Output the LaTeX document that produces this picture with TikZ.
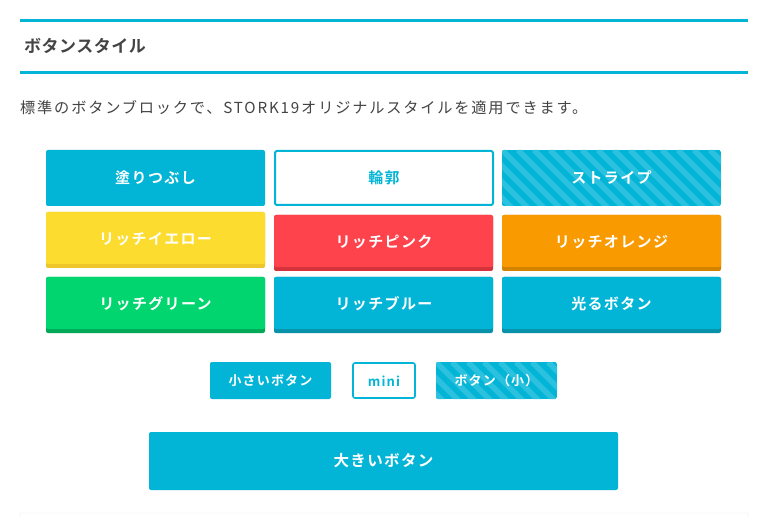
\documentclass[tikz,border=0pt]{standalone}
\usepackage{fontspec}
\setmainfont{Noto Sans CJK JP}
\newfontfamily\jpb[LetterSpace=9]{Noto Sans CJK JP Bold}
\newfontfamily\jpt[LetterSpace=3]{Noto Sans CJK JP Bold}
\newfontfamily\jpr[LetterSpace=12]{Noto Sans CJK JP}
\definecolor{cy}{HTML}{02B5D6}
\definecolor{cyl}{HTML}{2CC2DF}
\definecolor{cyd}{HTML}{0891A8}
\definecolor{yl}{HTML}{FDDC30}
\definecolor{yld}{HTML}{EFC62A}
\definecolor{pk}{HTML}{FE434C}
\definecolor{pkd}{HTML}{D4333B}
\definecolor{og}{HTML}{F89A00}
\definecolor{ogd}{HTML}{D48300}
\definecolor{gr}{HTML}{00D56F}
\definecolor{grd}{HTML}{00A858}
\definecolor{tx}{HTML}{444444}
\tikzset{
 btxt/.style={text=white,font=\jpb\fontsize{15}{17}\selectfont},
 stxt/.style={text=white,font=\jpb\fontsize{13}{15}\selectfont},
}
\newcommand{\btn}[7]{% name x1 y1 x2 y2 color shadow
 \fill[#7,rounded corners=2pt] (#2,#3) rectangle (#4,#5);
 \fill[#6,rounded corners=2pt] (#2,#3) rectangle (#4,#5-4);
}
\newcommand{\stripes}[4]{%
 \begin{scope}
 \clip[rounded corners=2pt] (#1,#2) rectangle (#3,#4);
 \fill[cy] (#1,#2) rectangle (#3,#4);
 \foreach \k in {-80,-64,...,260} \draw[cyl,line width=5.6pt] (#1+\k,#2) -- ++(80,80);
 \end{scope}}
\begin{document}
\begin{tikzpicture}[x=1pt,y=-1pt]
\useasboundingbox[fill=white] (0,0) rectangle (765,518);
\fill[cy] (20,19) rectangle (748,22);
\fill[cy] (20,71) rectangle (748,74);
\node[anchor=west,text=tx,inner sep=0,font=\jpt\fontsize{17}{19}\selectfont] (title) at (24,46) {ボタンスタイル};
\node[anchor=west,text=tx,inner sep=0,font=\jpr\fontsize{15.2}{17}\selectfont] (desc) at (20,108) {標準のボタンブロックで、STORK19オリジナルスタイルを適用できます。};
% row1
\fill[cy,rounded corners=2pt] (46,150) rectangle (265,206);
\node[btxt] (b1) at (155.5,178) {塗りつぶし};
\draw[cy,line width=2pt,rounded corners=2pt] (275,151) rectangle (493,205);
\node[btxt,text=cy] (b2) at (384,178) {輪郭};
\stripes{502}{150}{721}{206}
\node[btxt] (b3) at (611.5,178) {ストライプ};
% row2
\btn{y}{46}{212}{265}{268}{yl}{yld}
\node[btxt] (b4) at (155.5,239) {リッチイエロー};
\btn{p}{274}{215}{493}{271}{pk}{pkd}
\node[btxt] (b5) at (384,242) {リッチピンク};
\btn{o}{502}{215}{721}{271}{og}{ogd}
\node[btxt] (b6) at (611.5,242) {リッチオレンジ};
% row3
\btn{g}{46}{277}{265}{333}{gr}{grd}
\node[btxt] (b7) at (155.5,304) {リッチグリーン};
\btn{b}{274}{277}{493}{333}{cy}{cyd}
\node[btxt] (b8) at (384,304) {リッチブルー};
\btn{h}{502}{277}{721}{333}{cy}{cyd}
\node[btxt] (b9) at (611.5,304) {光るボタン};
% small
\fill[cy,rounded corners=2pt] (210,362) rectangle (331,399);
\node[stxt] (s1) at (270.5,381) {小さいボタン};
\draw[cy,line width=1.6pt,rounded corners=2pt] (353,363) rectangle (415,398);
\node[stxt,text=cy] (s2) at (384,381) {mini};
\stripes{436}{362}{557}{399}
\node[stxt] (s3) at (496.5,381) {ボタン（小）};
% big
\fill[cy,rounded corners=2pt] (149,432) rectangle (618,490);
\node[btxt,font=\jpb\fontsize{15.5}{17}\selectfont] (big) at (383.5,461) {大きいボタン};
\draw[black!8,rounded corners=1pt] (20,513) rectangle (748,530);
\end{tikzpicture}
\end{document}
